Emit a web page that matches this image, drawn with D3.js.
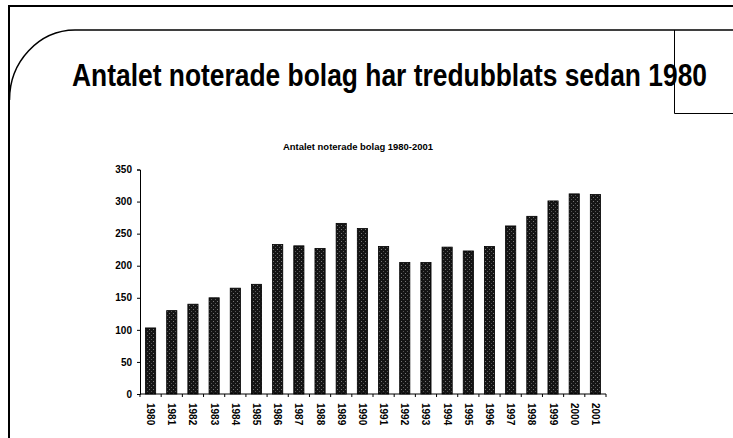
<!DOCTYPE html>
<html lang="sv">
<head>
    <meta charset="UTF-8">
    <title>Antalet noterade bolag</title>
    <script src="https://cdn.jsdelivr.net/npm/d3@7"></script>
    <style>
        body { margin: 0; background: #fff; }
        text { font-family: "Liberation Sans Narrow", "Liberation Sans", Arial, sans-serif; font-weight: bold; }
    </style>
</head>
<body>
<div id="chart"></div>
<script>
    // data
    const years = ["1980","1981","1982","1983","1984","1985","1986","1987","1988","1989","1990",
                   "1991","1992","1993","1994","1995","1996","1997","1998","1999","2000","2001"];
    const bolag = [103, 130, 140, 150, 165, 171, 233, 231, 227, 266, 258,
                   230, 205, 205, 229, 223, 230, 262, 277, 301, 312, 311];
    const yTicks = [0, 50, 100, 150, 200, 250, 300, 350];

    const W = 733, H = 438;
    const svg = d3.select("#chart").append("svg")
        .attr("width", W)
        .attr("height", H);

    // slide frame
    svg.append("path")
        .attr("d", "M9,438 V6 H733")
        .attr("fill", "none").attr("stroke", "#000").attr("stroke-width", 2);
    svg.append("path")
        .attr("d", "M9.5,100 A66,70 0 0 1 75,30 H733")
        .attr("fill", "none").attr("stroke", "#000").attr("stroke-width", 1.5);
    svg.append("path")
        .attr("d", "M674.5,30 V113.5 H733")
        .attr("fill", "none").attr("stroke", "#000").attr("stroke-width", 1);

    // main title, narrow look by vertical stretch
    svg.append("text")
        .attr("transform", "translate(72,86) scale(1,1.28)")
        .attr("font-size", 25)
        .attr("textLength", 635).attr("lengthAdjust", "spacingAndGlyphs")
        .text("Antalet noterade bolag har tredubblats sedan 1980");

    // chart
    const x = d3.scaleBand().domain(years).range([140, 606]).paddingInner(0.52).paddingOuter(0.26);
    const y = d3.scaleLinear().domain([0, 350]).range([394, 169.5]);

    svg.append("text")
        .attr("x", 358).attr("y", 150)
        .attr("text-anchor", "middle")
        .attr("font-size", 9)
        .attr("textLength", 150).attr("lengthAdjust", "spacingAndGlyphs")
        .text("Antalet noterade bolag 1980-2001");

    // speckled bar fill
    const pat = svg.append("defs").append("pattern")
        .attr("id", "speck").attr("width", 4).attr("height", 4)
        .attr("patternUnits", "userSpaceOnUse");
    pat.append("rect").attr("width", 4).attr("height", 4).attr("fill", "#151515");
    pat.append("rect").attr("x", 1).attr("y", 1).attr("width", 1).attr("height", 1).attr("fill", "#777");
    pat.append("rect").attr("x", 3).attr("y", 3).attr("width", 1).attr("height", 1).attr("fill", "#555");

    svg.selectAll("rect.bar")
        .data(bolag)
        .enter().append("rect")
        .attr("class", "bar")
        .attr("x", (d, i) => x(years[i]))
        .attr("width", x.bandwidth())
        .attr("y", d => y(d))
        .attr("height", d => y(0) - y(d))
        .attr("fill", "url(#speck)")
        .attr("stroke", "#000").attr("stroke-width", 0.8);

    const yAxis = svg.append("g")
        .attr("transform", "translate(140,0)")
        .call(d3.axisLeft(y).tickValues(yTicks).tickSize(3).tickPadding(5));
    yAxis.selectAll("text").attr("font-size", 10).attr("font-family", null);
    yAxis.select(".domain").attr("stroke", "#000");

    // x axis with ticks between categories
    const xg = svg.append("g").attr("transform", "translate(0,394)");
    xg.append("line").attr("x1", 140).attr("x2", 606).attr("stroke", "#000");
    xg.selectAll("line.tk")
        .data(d3.range(years.length + 1))
        .enter().append("line")
        .attr("class", "tk")
        .attr("x1", i => 140 + i * x.step())
        .attr("x2", i => 140 + i * x.step())
        .attr("y1", 0).attr("y2", 3)
        .attr("stroke", "#000");
    xg.selectAll("text")
        .data(years)
        .enter().append("text")
        .attr("transform", d => `translate(${x(d) + x.bandwidth() / 2},9) rotate(90)`)
        .attr("dy", "0.35em")
        .attr("font-size", 10)
        .text(d => d);
</script>
</body>
</html>
